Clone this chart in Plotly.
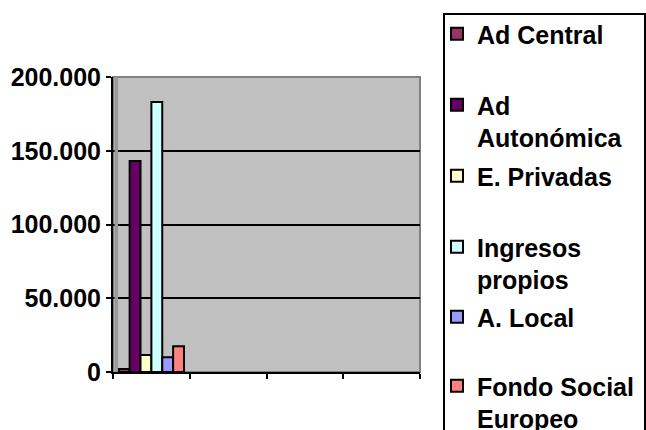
import plotly.graph_objects as go

categories = ["1", "2", "3", "4"]
series_names = ["Ad Central", "Ad<br>Autonómica", "E. Privadas",
                "Ingresos<br>propios", "A. Local", "Fondo Social<br>Europeo"]
ad_central = [2000, None, None, None]
ad_autonomica = [143000, None, None, None]
e_privadas = [11500, None, None, None]
ingresos_propios = [183000, None, None, None]
a_local = [10000, None, None, None]
fondo_social = [17500, None, None, None]
series_values = [ad_central, ad_autonomica, e_privadas,
                 ingresos_propios, a_local, fondo_social]
colors = ["#993366", "#660066", "#FFFFCC", "#CCFFFF", "#9999FF", "#FF8080"]
y_ticks = [0, 50000, 100000, 150000, 200000]

W, H = 646, 430
ML, MR, MT, MB = 113, 226, 77, 58
FONT = dict(family="Arial, 'Liberation Sans', sans-serif", size=25, color="black", weight="bold")

fig = go.Figure()
legend_names = ["legend", "legend2", "legend3", "legend4", "legend5", "legend6"]
for name, vals, col, lg in zip(series_names, series_values, colors, legend_names):
    fig.add_trace(go.Bar(
        x=categories, y=vals, name=name,
        marker=dict(color=col, line=dict(color="black", width=2)),
        legend=lg,
    ))

# legend first-line centres (px from top)
item_centres = [35, 106, 177, 248, 318, 387]
OFFSET = 24
layout_legends = {}
for lg, c in zip(legend_names, item_centres):
    layout_legends[lg] = dict(
        x=437 / W, xref="container", xanchor="left",
        y=1 - (c - OFFSET) / H, yref="container", yanchor="top",
        bgcolor="rgba(0,0,0,0)", borderwidth=0, font=FONT,
        valign="top", itemwidth=30, itemclick=False,
    )

pw = W - ML - MR
ph = H - MT - MB

shapes = [
    # back-wall edge (3D look)
    dict(type="rect", xref="paper", yref="paper", x0=0, x1=1, y0=0, y1=1,
         line=dict(color="#808080", width=2), fillcolor="rgba(0,0,0,0)", layer="below"),
    # left side wall strip
    dict(type="rect", xref="paper", yref="paper",
         x0=1.5 / pw, x1=5 / pw, y0=0, y1=1,
         line=dict(width=0), fillcolor="#999999", layer="above"),
    # legend frame
    dict(type="rect", xref="paper", yref="paper",
         x0=(444 - ML) / pw, x1=(645 - ML) / pw,
         y0=(H - MB - 440) / ph, y1=(H - MB - 14) / ph,
         line=dict(color="black", width=2), fillcolor="rgba(0,0,0,0)",
         layer="below"),
]

fig.update_layout(
    width=W, height=H,
    margin=dict(l=ML, r=MR, t=MT, b=MB, autoexpand=False),
    paper_bgcolor="white", plot_bgcolor="#C0C0C0",
    barmode="group", bargap=0.15, bargroupgap=0,
    separators=",.",
    font=FONT,
    showlegend=True,
    xaxis=dict(
        type="category", categoryorder="array", categoryarray=categories,
        showticklabels=False, ticks="outside", tickson="boundaries",
        ticklen=5, tickwidth=2, tickcolor="black",
        showline=True, linecolor="black", linewidth=2, showgrid=False,
    ),
    yaxis=dict(
        range=[0, 200000], tickvals=y_ticks, tickformat=",.0f",
        showgrid=True, gridcolor="black", gridwidth=2,
        showline=True, linecolor="black", linewidth=2,
        ticks="outside", ticklen=5, tickwidth=2, tickcolor="black",
        zeroline=False, tickfont=FONT,
    ),
    shapes=shapes,
    **layout_legends,
)

fig.write_html("out.html", config={"displayModeBar": False},
               post_script="document.body.style.margin='0px';document.body.style.overflow='hidden';")
